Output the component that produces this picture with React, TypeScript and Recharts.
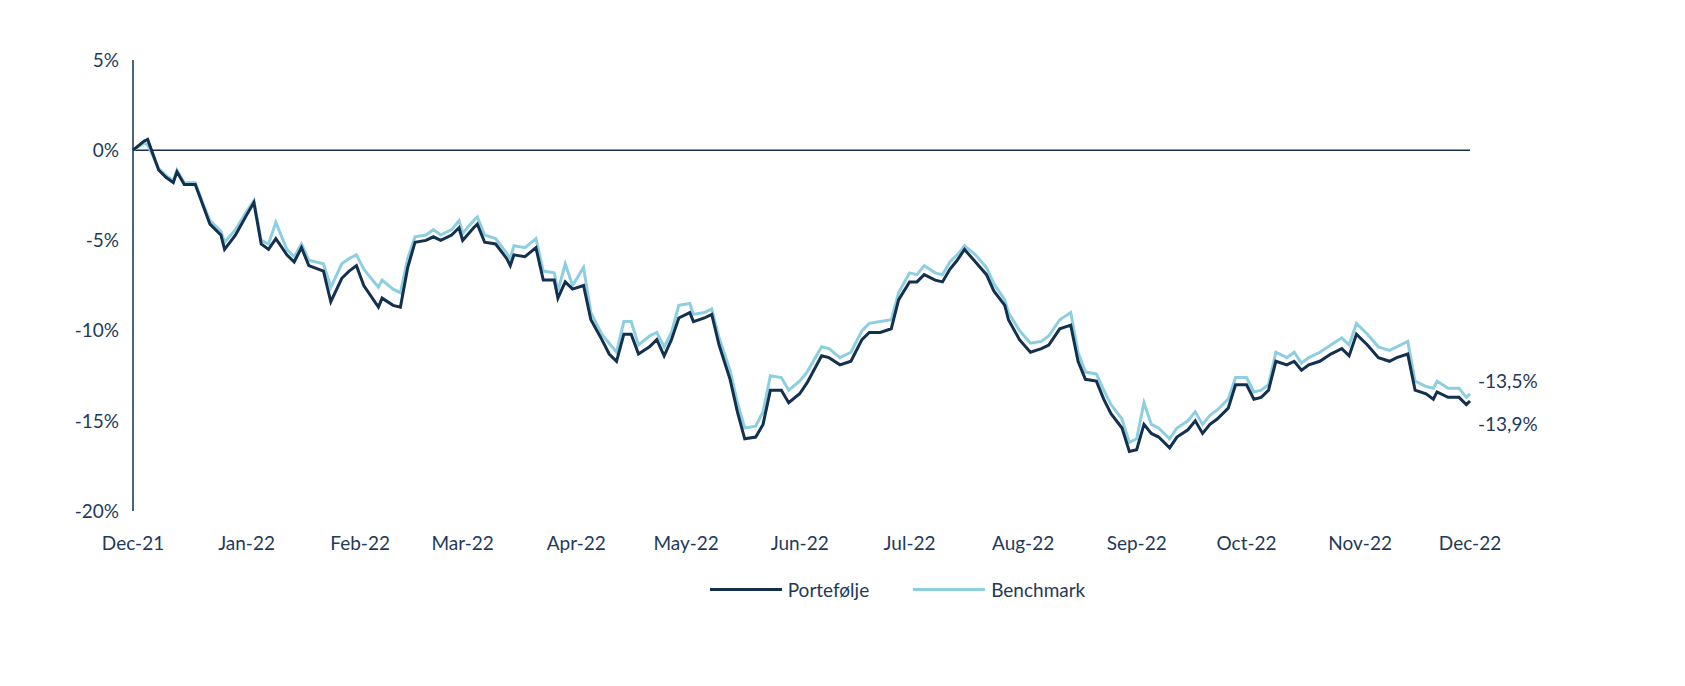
import React from 'react';
import { CartesianGrid, Line, LineChart, ReferenceLine, XAxis, YAxis } from 'recharts';

const DAYS = [0, 3, 4, 7, 9, 11, 12, 14, 17, 19, 21, 24, 25, 28, 31, 33, 35, 37, 39, 42, 44, 46, 48, 52, 54, 57, 59, 61, 63, 67, 68, 71, 73, 75, 77, 80, 82, 84, 87, 89, 90, 93, 94, 96, 99, 102, 103, 104, 107, 110, 112, 115, 116, 118, 120, 123, 125, 128, 130, 132, 134, 136, 138, 141, 143, 145, 147, 149, 152, 153, 156, 158, 160, 163, 165, 167, 170, 172, 174, 177, 179, 182, 184, 188, 190, 193, 196, 199, 201, 204, 207, 209, 212, 214, 216, 219, 221, 223, 225, 227, 230, 233, 235, 238, 239, 242, 245, 248, 250, 253, 256, 258, 260, 263, 265, 267, 270, 272, 274, 276, 278, 280, 283, 285, 288, 290, 292, 294, 296, 299, 301, 304, 306, 308, 310, 312, 315, 317, 319, 321, 324, 327, 330, 332, 334, 337, 340, 343, 345, 348, 350, 353, 355, 356, 359, 362, 364, 365];

const PORTFOLIO = [0, 0.5, 0.6, -1.1, -1.5, -1.8, -1.2, -1.9, -1.9, -3.0, -4.1, -4.7, -5.5, -4.7, -3.6, -2.9, -5.2, -5.5, -4.9, -5.8, -6.2, -5.4, -6.4, -6.7, -8.4, -7.1, -6.7, -6.4, -7.5, -8.7, -8.2, -8.6, -8.7, -6.5, -5.1, -5.0, -4.8, -5.0, -4.7, -4.3, -5.0, -4.3, -4.1, -5.1, -5.2, -6.0, -6.4, -5.8, -5.9, -5.4, -7.2, -7.2, -8.2, -7.3, -7.7, -7.5, -9.4, -10.5, -11.3, -11.7, -10.2, -10.2, -11.3, -10.9, -10.5, -11.4, -10.5, -9.3, -9.0, -9.5, -9.3, -9.1, -10.8, -12.7, -14.5, -16.0, -15.9, -15.2, -13.3, -13.3, -14.0, -13.5, -12.9, -11.4, -11.5, -11.9, -11.7, -10.5, -10.1, -10.1, -9.9, -8.3, -7.3, -7.3, -6.9, -7.2, -7.3, -6.6, -6.1, -5.5, -6.2, -6.9, -7.8, -8.6, -9.4, -10.5, -11.2, -11.0, -10.8, -9.9, -9.7, -11.7, -12.7, -12.8, -13.8, -14.6, -15.4, -16.7, -16.6, -15.2, -15.7, -15.9, -16.5, -15.9, -15.5, -15.0, -15.7, -15.2, -14.9, -14.3, -13.0, -13.0, -13.8, -13.7, -13.3, -11.7, -11.9, -11.7, -12.2, -11.9, -11.7, -11.3, -11.0, -11.4, -10.2, -10.8, -11.5, -11.7, -11.5, -11.3, -13.3, -13.5, -13.8, -13.4, -13.7, -13.7, -14.1, -13.9];

const BENCHMARK = [0, 0.4, 0.3, -1.0, -1.4, -1.7, -1.1, -1.8, -1.8, -2.9, -3.9, -4.5, -5.1, -4.4, -3.4, -2.8, -5.0, -5.2, -4.0, -5.5, -5.9, -5.2, -6.1, -6.3, -7.6, -6.3, -6.0, -5.8, -6.6, -7.6, -7.2, -7.7, -7.9, -6.0, -4.8, -4.7, -4.4, -4.7, -4.4, -3.9, -4.6, -3.9, -3.7, -4.7, -4.9, -5.7, -6.0, -5.3, -5.4, -4.9, -6.7, -6.8, -7.8, -6.3, -7.5, -6.5, -9.0, -10.2, -10.7, -11.2, -9.5, -9.5, -10.8, -10.3, -10.1, -10.9, -10.1, -8.6, -8.5, -9.1, -9.0, -8.8, -10.4, -12.2, -14.0, -15.4, -15.3, -14.5, -12.5, -12.6, -13.3, -12.8, -12.3, -10.9, -11.0, -11.5, -11.2, -10.0, -9.6, -9.5, -9.4, -7.9, -6.8, -6.9, -6.4, -6.8, -6.9, -6.2, -5.8, -5.3, -5.8, -6.5, -7.4, -8.3, -9.0, -10.0, -10.7, -10.6, -10.3, -9.4, -9.0, -11.2, -12.3, -12.4, -13.3, -14.1, -14.9, -16.2, -16.0, -14.0, -15.2, -15.4, -16.0, -15.4, -15.0, -14.5, -15.2, -14.7, -14.4, -13.8, -12.6, -12.6, -13.4, -13.3, -13.0, -11.2, -11.5, -11.2, -11.8, -11.5, -11.2, -10.8, -10.4, -10.8, -9.6, -10.2, -10.9, -11.1, -10.9, -10.6, -12.8, -13.1, -13.2, -12.8, -13.2, -13.2, -13.7, -13.5];

const MONTH_DAYS = [0, 31, 62, 90, 121, 151, 182, 212, 243, 274, 304, 335, 365];
const MONTH_LABELS = ['Dec-21', 'Jan-22', 'Feb-22', 'Mar-22', 'Apr-22', 'May-22', 'Jun-22', 'Jul-22', 'Aug-22', 'Sep-22', 'Oct-22', 'Nov-22', 'Dec-22'];
const Y_TICKS = [5, 0, -5, -10, -15, -20];

const DARK = '#13304f';
const LIGHT = '#8dcfe0';
const TEXT = '#1f3a5a';
const FONT = 'Lato, "Open Sans", sans-serif';

const data = DAYS.map((d, i) => ({ day: d, p: PORTFOLIO[i], b: BENCHMARK[i] }));
const last = data.length - 1;

const fmt = (v: number) => `${v.toFixed(1).replace('.', ',')}%`;

const endLabel = (key: 'p' | 'b', dy: number) => (props: any) => {
  if (props.index !== last) return null;
  return (
    <text x={props.x + 8} y={props.y + dy} fill={TEXT} fontSize={19} fontFamily={FONT}>
      {fmt(key === 'p' ? PORTFOLIO[last] : BENCHMARK[last])}
    </text>
  );
};

function App() {
  return (
    <div style={{ position: 'relative', width: 1669, height: 670, fontFamily: FONT }}>
      <LineChart width={1669} height={560} data={data} margin={{ top: 52, right: 207, left: 65, bottom: 27 }}>
        <CartesianGrid stroke="none" />
        <XAxis
          dataKey="day"
          type="number"
          domain={[0, 365]}
          ticks={MONTH_DAYS}
          tickFormatter={(v: number) => MONTH_LABELS[MONTH_DAYS.indexOf(v)]}
          axisLine={false}
          tickLine={false}
          tickMargin={20}
          height={30}
          tick={{ fill: TEXT, fontSize: 19, fontFamily: FONT }}
          interval={0}
        />
        <YAxis
          domain={[-20, 5]}
          ticks={Y_TICKS}
          tickFormatter={(v: number) => `${v}%`}
          width={60}
          axisLine={{ stroke: DARK, strokeWidth: 1.5 }}
          tickLine={false}
          tickMargin={8}
          tick={{ fill: TEXT, fontSize: 19, fontFamily: FONT }}
        />
        <ReferenceLine y={0} stroke={DARK} strokeWidth={1.5} />
        <Line type="linear" dataKey="b" stroke={LIGHT} strokeWidth={3} dot={false} isAnimationActive={false} label={endLabel('b', -6)} />
        <Line type="linear" dataKey="p" stroke={DARK} strokeWidth={3} dot={false} isAnimationActive={false} label={endLabel('p', 30)} />
      </LineChart>
      <div style={{ position: 'absolute', top: 570, left: 0, width: 1669, display: 'flex', justifyContent: 'center', gap: 44, color: TEXT, fontSize: 19, paddingLeft: 110, boxSizing: 'border-box' }}>
        <span style={{ display: 'flex', alignItems: 'center' }}>
          <span style={{ display: 'inline-block', width: 72, height: 3, background: DARK, marginRight: 6 }} />Portefølje
        </span>
        <span style={{ display: 'flex', alignItems: 'center' }}>
          <span style={{ display: 'inline-block', width: 72, height: 3, background: LIGHT, marginRight: 6 }} />Benchmark
        </span>
      </div>
    </div>
  );
}

export default App;
